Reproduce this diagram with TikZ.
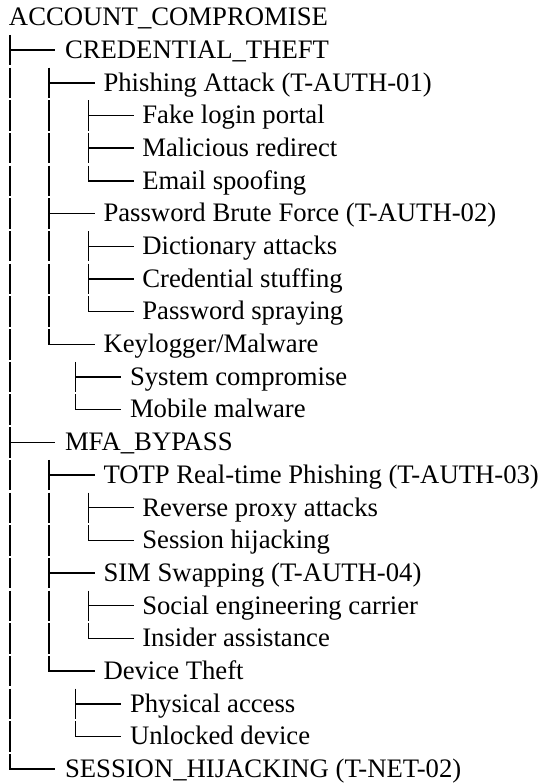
\documentclass[tikz,border=0pt]{standalone}
\usepackage{fontspec}
\setmainfont{Liberation Serif}
\newcommand\treeTee[2]{%
  \draw[tline] ([yshift=23.5pt]#1.base -| #2) -- ([yshift=-6.9pt]#1.base -| #2);
  \draw[tline] ([yshift=8.3pt]#1.base -| #2) -- ([yshift=8.3pt]#1.base -| #2e);}
\newcommand\treeEll[2]{%
  \draw[tline] ([yshift=23.5pt]#1.base -| #2) -- ([yshift=8.3pt]#1.base -| #2) -- ([yshift=8.3pt]#1.base -| #2e);}
\newcommand\treePipe[2]{%
  \draw[tline] ([yshift=23.5pt]#1.base -| #2) -- ([yshift=-6.9pt]#1.base -| #2);}
\begin{document}
\begin{tikzpicture}[x=1pt,y=-1pt,
  lbl/.style={anchor=base west, inner sep=0pt, outer sep=0pt, font=\fontsize{26.7pt}{30pt}\selectfont},
  tline/.style={line width=1.5pt, line cap=butt, line join=miter}]
\useasboundingbox (0,0) rectangle (543,784);
% column coordinates
\coordinate (c1) at (9.8,0);  \coordinate (c1e) at (55.3,0);
\coordinate (c2) at (49.2,0); \coordinate (c2e) at (94.7,0);
\coordinate (c3) at (88.3,0); \coordinate (c3e) at (133.8,0);
\coordinate (c4) at (75.5,0); \coordinate (c4e) at (121.0,0);
% text rows
\def\pitch{32.68}
\def\top{25.8}
\node[lbl] (r0)  at (9,   \top+0*\pitch)  {ACCOUNT\_COMPROMISE};
\node[lbl] (r1)  at (65,  \top+1*\pitch)  {CREDENTIAL\_THEFT};
\node[lbl] (r2)  at (103.5, \top+2*\pitch)  {Phishing Attack (T-AUTH-01)};
\node[lbl] (r3)  at (142.3, \top+3*\pitch)  {Fake login portal};
\node[lbl] (r4)  at (142.3, \top+4*\pitch)  {Malicious redirect};
\node[lbl] (r5)  at (142.3, \top+5*\pitch)  {Email spoofing};
\node[lbl] (r6)  at (103.5, \top+6*\pitch)  {Password Brute Force (T-AUTH-02)};
\node[lbl] (r7)  at (142.3, \top+7*\pitch)  {Dictionary attacks};
\node[lbl] (r8)  at (142.3, \top+8*\pitch)  {Credential stuffing};
\node[lbl] (r9)  at (142.3, \top+9*\pitch)  {Password spraying};
\node[lbl] (r10) at (103.5, \top+10*\pitch) {Keylogger/Malware};
\node[lbl] (r11) at (130, \top+11*\pitch) {System compromise};
\node[lbl] (r12) at (130, \top+12*\pitch) {Mobile malware};
\node[lbl] (r13) at (65,  \top+13*\pitch) {MFA\_BYPASS};
\node[lbl] (r14) at (103.5, \top+14*\pitch) {TOTP Real-time Phishing (T-AUTH-03)};
\node[lbl] (r15) at (142.3, \top+15*\pitch) {Reverse proxy attacks};
\node[lbl] (r16) at (142.3, \top+16*\pitch) {Session hijacking};
\node[lbl] (r17) at (103.5, \top+17*\pitch) {SIM Swapping (T-AUTH-04)};
\node[lbl] (r18) at (142.3, \top+18*\pitch) {Social engineering carrier};
\node[lbl] (r19) at (142.3, \top+19*\pitch) {Insider assistance};
\node[lbl] (r20) at (103.5, \top+20*\pitch) {Device Theft};
\node[lbl] (r21) at (130, \top+21*\pitch) {Physical access};
\node[lbl] (r22) at (130, \top+22*\pitch) {Unlocked device};
\node[lbl] (r23) at (65,  \top+23*\pitch) {SESSION\_HIJACKING (T-NET-02)};
% connectors
\treeTee{r1}{c1}
\treePipe{r2}{c1} \treeTee{r2}{c2}
\treePipe{r3}{c1} \treePipe{r3}{c2} \treeTee{r3}{c3}
\treePipe{r4}{c1} \treePipe{r4}{c2} \treeTee{r4}{c3}
\treePipe{r5}{c1} \treePipe{r5}{c2} \treeEll{r5}{c3}
\treePipe{r6}{c1} \treeTee{r6}{c2}
\treePipe{r7}{c1} \treePipe{r7}{c2} \treeTee{r7}{c3}
\treePipe{r8}{c1} \treePipe{r8}{c2} \treeTee{r8}{c3}
\treePipe{r9}{c1} \treePipe{r9}{c2} \treeEll{r9}{c3}
\treePipe{r10}{c1} \treeEll{r10}{c2}
\treePipe{r11}{c1} \treeTee{r11}{c4}
\treePipe{r12}{c1} \treeEll{r12}{c4}
\treeTee{r13}{c1}
\treePipe{r14}{c1} \treeTee{r14}{c2}
\treePipe{r15}{c1} \treePipe{r15}{c2} \treeTee{r15}{c3}
\treePipe{r16}{c1} \treePipe{r16}{c2} \treeEll{r16}{c3}
\treePipe{r17}{c1} \treeTee{r17}{c2}
\treePipe{r18}{c1} \treePipe{r18}{c2} \treeTee{r18}{c3}
\treePipe{r19}{c1} \treePipe{r19}{c2} \treeEll{r19}{c3}
\treePipe{r20}{c1} \treeEll{r20}{c2}
\treePipe{r21}{c1} \treeTee{r21}{c4}
\treePipe{r22}{c1} \treeEll{r22}{c4}
\treeEll{r23}{c1}
\end{tikzpicture}
\end{document}
